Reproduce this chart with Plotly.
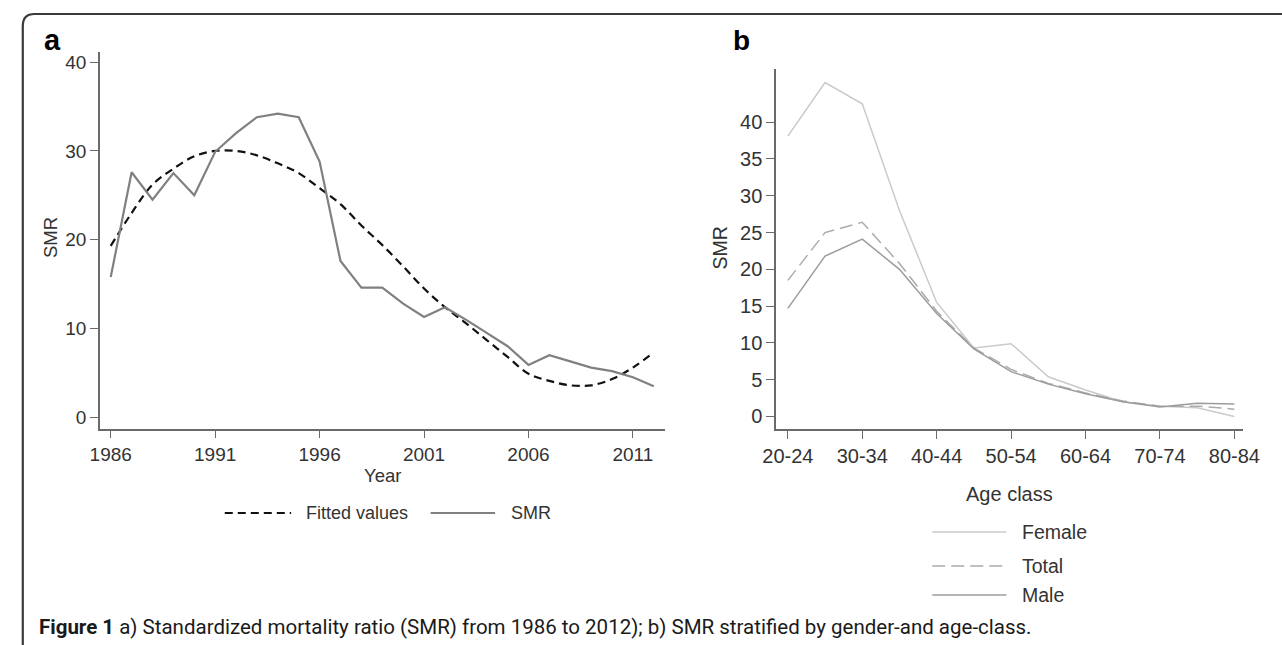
import plotly.graph_objects as go

W, H = 1282, 645

# ---------------- data ----------------
years = list(range(1986, 2013))
smr = [15.8, 27.6, 24.5, 27.5, 25.0, 29.9, 32.0, 33.8, 34.2, 33.8,
       28.8, 17.6, 14.6, 14.6, 12.8, 11.3, 12.4, 11.0, 9.5, 8.0,
       5.9, 7.0, 6.3, 5.6, 5.2, 4.5, 3.5]
fitted = [19.3, 23.0, 26.2, 28.0, 29.4, 30.0, 30.0, 29.5, 28.6, 27.5,
          25.8, 24.0, 21.6, 19.4, 17.0, 14.5, 12.4, 10.6, 8.7, 6.8,
          4.9, 4.1, 3.6, 3.6, 4.3, 5.6, 7.3]
year_ticks = [1986, 1991, 1996, 2001, 2006, 2011]
smr_ticks = [0, 10, 20, 30, 40]

age_classes = ['20-24', '25-29', '30-34', '35-39', '40-44', '45-49', '50-54',
               '55-59', '60-64', '65-69', '70-74', '75-79', '80-84']
female = [38.1, 45.4, 42.5, 28.0, 15.5, 9.3, 9.9, 5.4, 3.6, 2.0, 1.4, 1.2, 0.0]
total = [18.5, 25.0, 26.4, 20.8, 14.3, 9.3, 6.4, 4.5, 3.2, 2.1, 1.4, 1.4, 1.0]
male = [14.7, 21.8, 24.1, 20.0, 14.0, 9.2, 6.1, 4.4, 3.1, 2.0, 1.3, 1.8, 1.7]
age_ticks = age_classes[::2]
smr_b_ticks = [0, 5, 10, 15, 20, 25, 30, 35, 40]

caption_bold = "Figure 1"
caption_rest = " a) Standardized mortality ratio (SMR) from 1986 to 2012); b) SMR stratified by gender-and age-class."


def px(x):
    return x / W


def py(y):
    return 1 - y / H


FONT = "Liberation Sans, Arial, sans-serif"
TXT = "#333333"
AX = "#6a6a6a"

fig = go.Figure()

# panel a
fig.add_trace(go.Scatter(x=years, y=fitted, mode="lines", name="Fitted values",
                         line=dict(color="#111111", width=2.2, dash="8px,5px", shape="spline"),
                         xaxis="x", yaxis="y", showlegend=False))
fig.add_trace(go.Scatter(x=years, y=smr, mode="lines", name="SMR",
                         line=dict(color="#808080", width=2.2),
                         xaxis="x", yaxis="y", showlegend=False))
# panel b
fig.add_trace(go.Scatter(x=age_classes, y=female, mode="lines", name="Female",
                         line=dict(color="#cacaca", width=1.5),
                         xaxis="x2", yaxis="y2", showlegend=False))
fig.add_trace(go.Scatter(x=age_classes, y=total, mode="lines", name="Total",
                         line=dict(color="#ababab", width=1.5, dash="13px,6px"),
                         xaxis="x2", yaxis="y2", showlegend=False))
fig.add_trace(go.Scatter(x=age_classes, y=male, mode="lines", name="Male",
                         line=dict(color="#9c9c9c", width=1.5),
                         xaxis="x2", yaxis="y2", showlegend=False))


def axstyle(size, ticklen):
    return dict(showgrid=False, zeroline=False, showline=True, linecolor=AX, linewidth=1.5,
                ticks="outside", ticklen=ticklen, tickwidth=1.3, tickcolor=AX,
                tickfont=dict(family=FONT, size=size, color=TXT))


fig.update_layout(
    xaxis=dict(domain=[px(88), px(667)], range=[1985.48, 2012.53],
               tickmode="array", tickvals=year_ticks, anchor="y", **axstyle(19, 7)),
    yaxis=dict(domain=[py(429), py(52)], range=[-1.32, 41.14],
               tickmode="array", tickvals=smr_ticks, anchor="x", **axstyle(19, 8)),
    xaxis2=dict(domain=[px(781), px(1259)], range=[-0.315, 12.22], type="category",
                categoryorder="array", categoryarray=age_classes,
                tickmode="array", tickvals=age_ticks, anchor="y2", **axstyle(20, 8)),
    yaxis2=dict(domain=[py(429), py(68.5)], range=[-1.7, 47.3],
                tickmode="array", tickvals=smr_b_ticks, anchor="x2", **axstyle(20, 8)),
)

shapes = []
ann = []

# frame with rounded top-left corner
r = 12
x0, y0 = 9, 14
path = (f"M {px(x0)},{py(H + 20)} L {px(x0)},{py(y0 + r)} "
        f"Q {px(x0)},{py(y0)} {px(x0 + r)},{py(y0)} L {px(W + 20)},{py(y0)}")
shapes.append(dict(type="path", xref="paper", yref="paper", path=path,
                   line=dict(color="#3a3a3a", width=2.2)))

# panel labels
ann.append(dict(text="<b>a</b>", x=px(29), y=py(40), xanchor="left", yanchor="middle",
                font=dict(family=FONT, size=29, color="#000")))
ann.append(dict(text="<b>b</b>", x=px(735), y=py(41), xanchor="left", yanchor="middle",
                font=dict(family=FONT, size=28, color="#000")))

# axis titles
ann.append(dict(text="SMR", x=px(37), y=py(238), textangle=-90, xanchor="center", yanchor="middle",
                font=dict(family=FONT, size=18.5, color=TXT)))
ann.append(dict(text="Year", x=px(377.5), y=py(475), xanchor="center", yanchor="middle",
                font=dict(family=FONT, size=18.5, color=TXT)))
ann.append(dict(text="SMR", x=px(724), y=py(248), textangle=-90, xanchor="center", yanchor="middle",
                font=dict(family=FONT, size=19.5, color=TXT)))
ann.append(dict(text="Age class", x=px(1020), y=py(494), xanchor="center", yanchor="middle",
                font=dict(family=FONT, size=20, color=TXT)))

# legend a (horizontal)
leg_a = [("Fitted values", dict(color="#111111", width=2.2, dash="8px,5px"), 216, 284, 297),
         ("SMR", dict(color="#808080", width=2.2), 427, 493, 507)]
for name, ln, lx0, lx1, tx in leg_a:
    shapes.append(dict(type="line", xref="paper", yref="paper", x0=px(lx0), x1=px(lx1),
                       y0=py(513), y1=py(513), line=ln))
    ann.append(dict(text=name, x=px(tx), y=py(513), xanchor="left", yanchor="middle",
                    font=dict(family=FONT, size=18, color=TXT)))

# legend b (vertical)
leg_b = [("Female", dict(color="#cacaca", width=1.5), 532),
         ("Total", dict(color="#ababab", width=1.5, dash="13px,6px"), 566),
         ("Male", dict(color="#9c9c9c", width=1.5), 595)]
for name, ln, yy in leg_b:
    shapes.append(dict(type="line", xref="paper", yref="paper", x0=px(941), x1=px(1017),
                       y0=py(yy), y1=py(yy), line=ln))
    ann.append(dict(text=name, x=px(1031), y=py(yy), xanchor="left", yanchor="middle",
                    font=dict(family=FONT, size=19.5, color=TXT)))

# caption
ann.append(dict(text=f"<b>{caption_bold}</b>{caption_rest}", x=px(24), y=py(627),
                xanchor="left", yanchor="middle",
                font=dict(family="Liberation Sans Narrow, Roboto, sans-serif", size=20.5, color="#1a1a1a")))

for a in ann:
    a.update(xref="paper", yref="paper", showarrow=False)

fig.update_layout(
    width=W, height=H, margin=dict(l=0, r=0, t=0, b=0),
    paper_bgcolor="white", plot_bgcolor="white",
    shapes=shapes, annotations=ann, showlegend=False,
)

fig.write_html("out.html", config={"displayModeBar": False},
               post_script="document.body.style.margin='0';document.body.style.overflow='hidden';")
